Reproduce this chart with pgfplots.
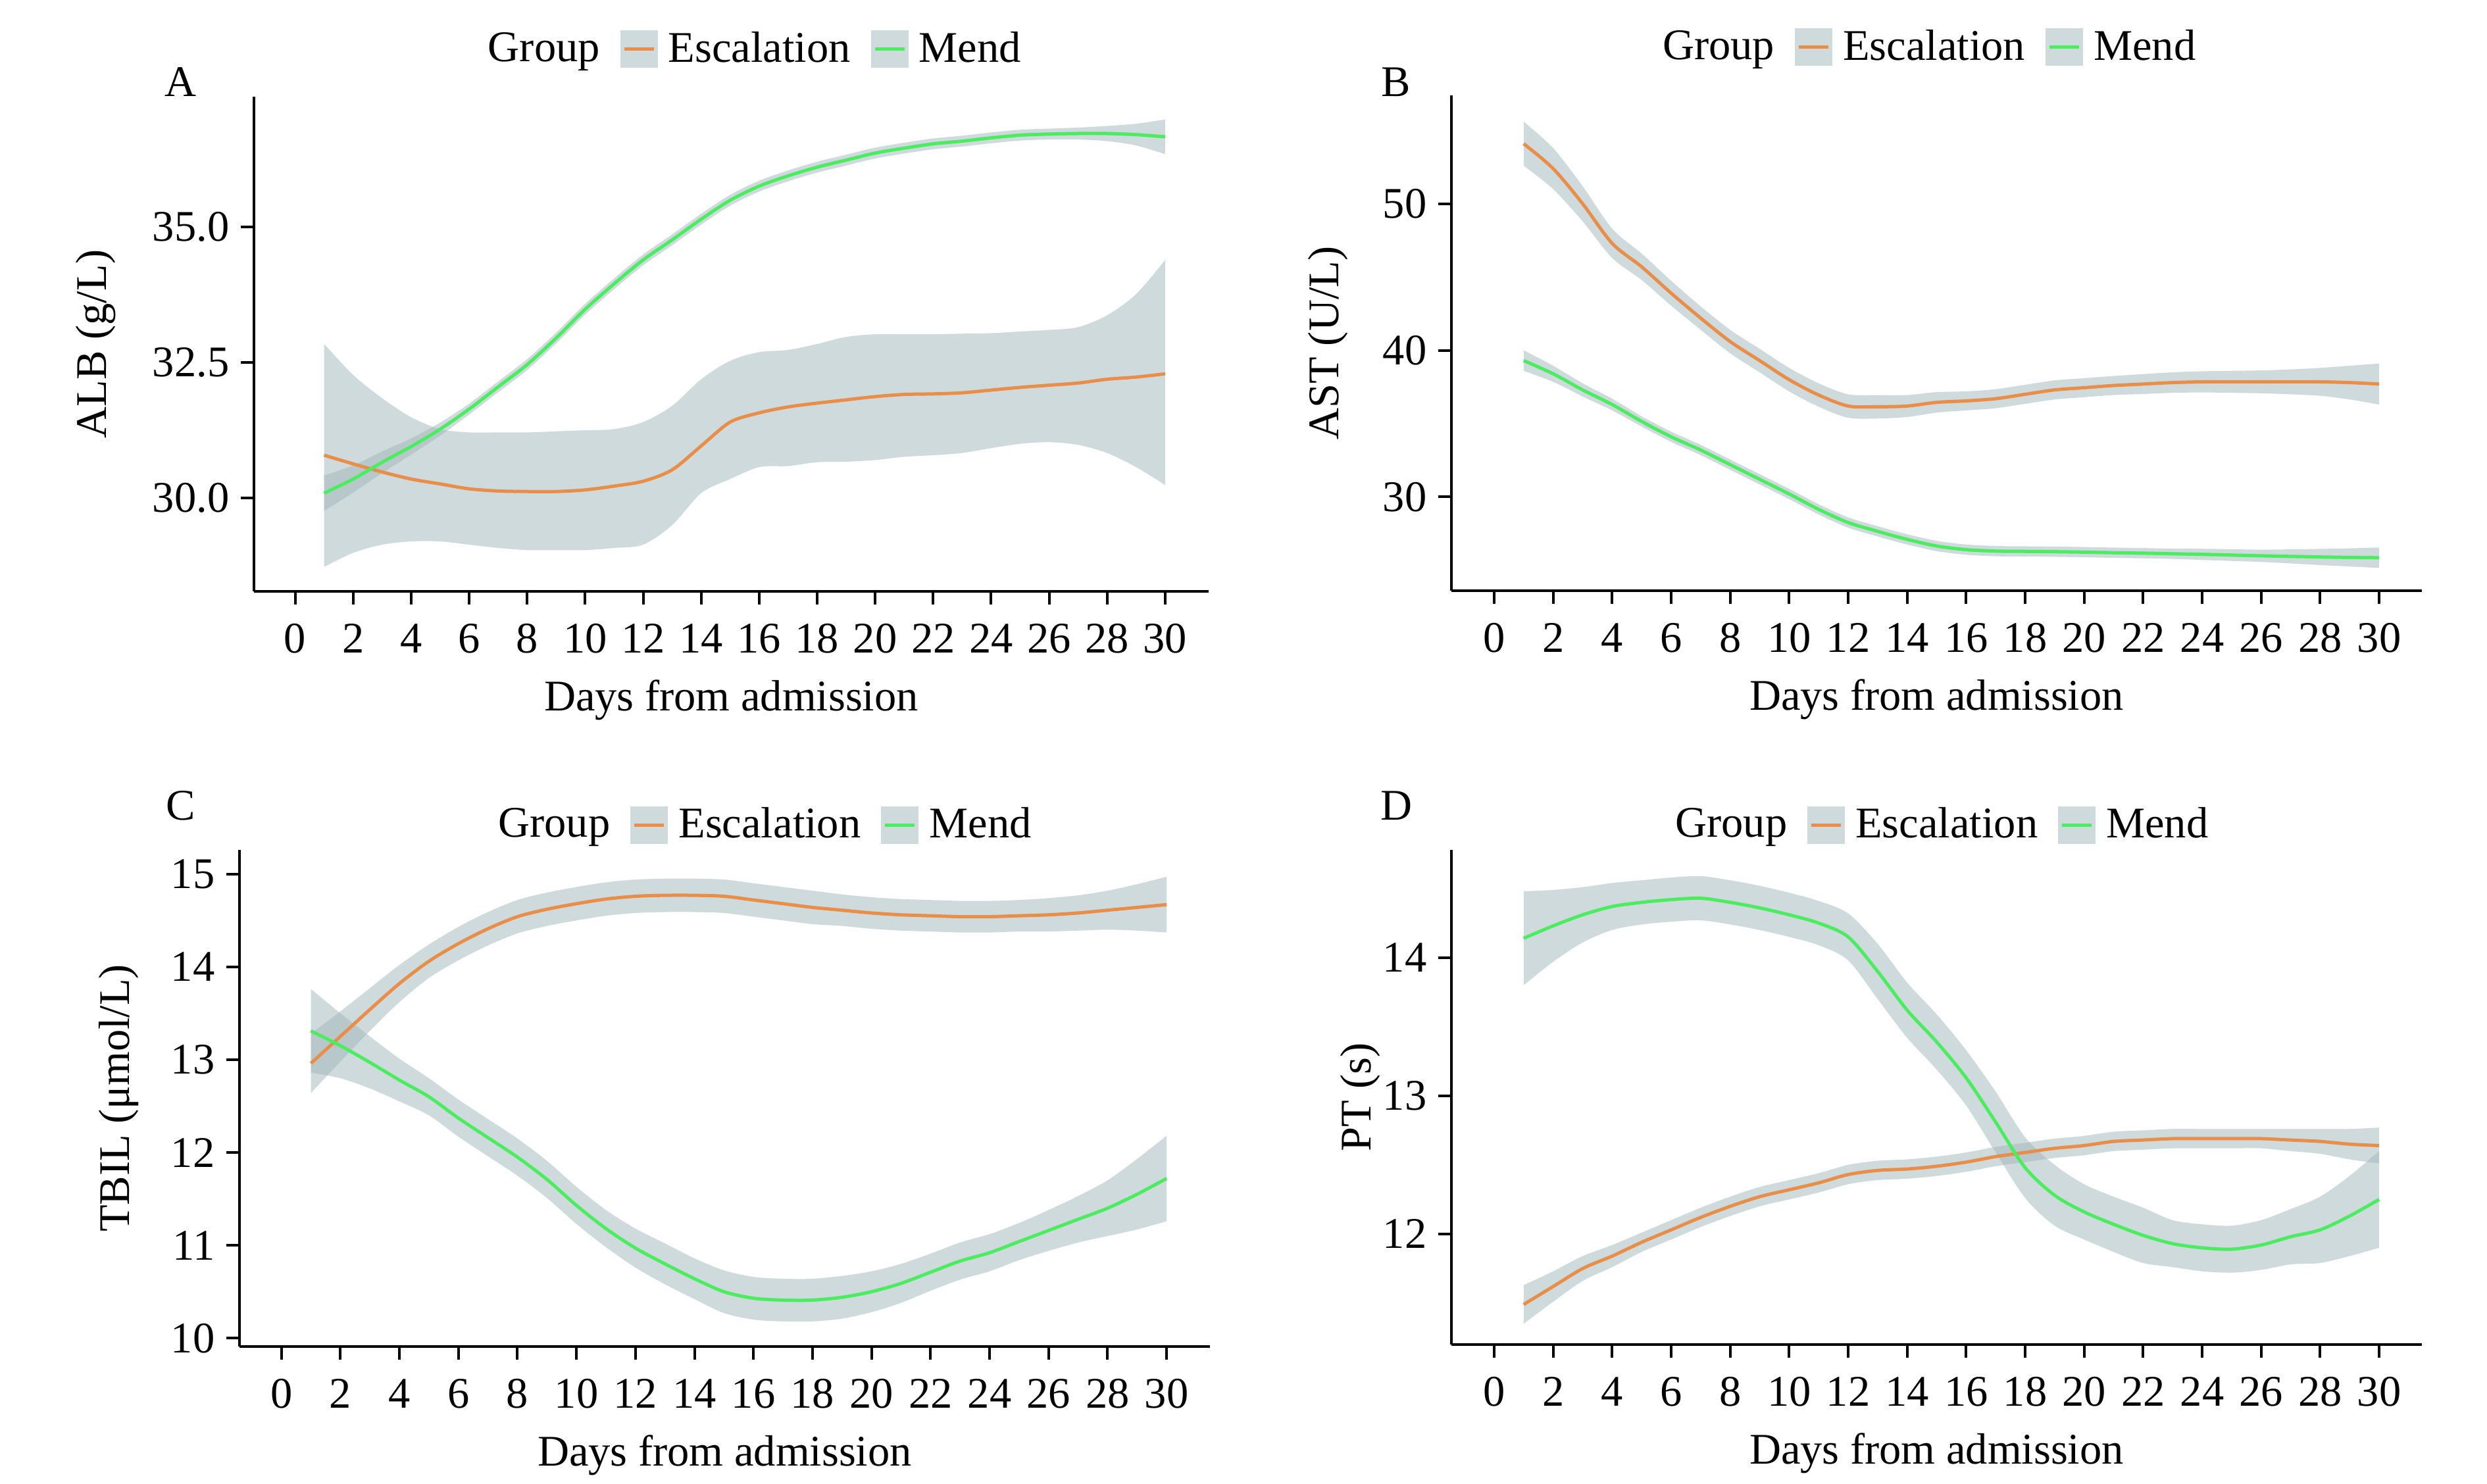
\documentclass[border=0pt]{standalone}
\usepackage{fontspec}
\setmainfont{Liberation Serif}
\usepackage{pgfplots}
\pgfplotsset{compat=1.18}
\usepackage{pgfplotstable}
\usepgfplotslibrary{fillbetween}
\definecolor{esc}{RGB}{232,142,72}
\definecolor{mend}{RGB}{76,236,96}
\definecolor{band}{RGB}{159,181,185}
\definecolor{bandkey}{RGB}{207,218,220}

% d = day; em/el/eh = Escalation mean/lower/upper; mm/ml/mh = Mend mean/lower/upper
\pgfplotstableread{
d em el eh mm ml mh
1 30.79 28.73 32.84 30.09 29.76 30.42
2 30.63 28.99 32.27 30.35 30.10 30.60
3 30.48 29.14 31.84 30.66 30.46 30.86
4 30.35 29.20 31.49 30.95 30.80 31.10
5 30.26 29.20 31.27 31.27 31.15 31.39
6 30.17 29.14 31.21 31.64 31.54 31.74
7 30.13 29.08 31.21 32.05 31.95 32.15
8 30.12 29.04 31.21 32.46 32.36 32.56
9 30.12 29.04 31.23 32.95 32.85 33.05
10 30.15 29.04 31.25 33.48 33.38 33.58
11 30.22 29.08 31.27 33.95 33.85 34.05
12 30.31 29.14 31.40 34.39 34.29 34.49
13 30.52 29.50 31.70 34.76 34.66 34.86
14 30.96 30.09 32.19 35.14 35.04 35.24
15 31.40 30.35 32.53 35.49 35.39 35.59
16 31.57 30.57 32.69 35.75 35.65 35.85
17 31.68 30.59 32.73 35.94 35.84 36.04
18 31.75 30.66 32.84 36.10 36.00 36.20
19 31.81 30.67 32.97 36.23 36.13 36.33
20 31.87 30.70 33.02 36.36 36.26 36.46
21 31.91 30.76 33.02 36.45 36.35 36.55
22 31.92 30.79 33.02 36.53 36.43 36.63
23 31.94 30.83 33.03 36.58 36.48 36.68
24 31.99 30.92 33.04 36.64 36.54 36.74
25 32.04 31.00 33.07 36.69 36.59 36.79
26 32.08 31.03 33.10 36.71 36.61 36.81
27 32.12 30.98 33.15 36.72 36.61 36.83
28 32.19 30.83 33.37 36.72 36.58 36.86
29 32.23 30.57 33.76 36.70 36.50 36.90
30 32.29 30.24 34.39 36.66 36.34 36.98
}\dA

\pgfplotstableread{
d em el eh mm ml mh
1 54.10 52.60 55.60 39.30 38.60 40.00
2 52.40 51.00 53.80 38.40 37.85 38.95
3 50.00 48.80 51.20 37.30 36.85 37.75
4 47.30 46.30 48.30 36.30 35.90 36.70
5 45.70 44.80 46.60 35.15 34.80 35.50
6 43.90 43.05 44.75 34.10 33.75 34.45
7 42.20 41.40 43.00 33.20 32.85 33.55
8 40.60 39.80 41.40 32.20 31.85 32.55
9 39.30 38.50 40.10 31.20 30.85 31.55
10 38.00 37.20 38.80 30.20 29.85 30.55
11 36.95 36.15 37.75 29.15 28.80 29.50
12 36.20 35.40 37.00 28.25 27.90 28.60
13 36.15 35.35 36.95 27.65 27.30 28.00
14 36.20 35.45 36.95 27.10 26.75 27.45
15 36.45 35.75 37.15 26.65 26.30 27.00
16 36.55 35.90 37.20 26.40 26.05 26.75
17 36.70 36.05 37.35 26.30 25.95 26.65
18 37.00 36.35 37.65 26.28 25.93 26.63
19 37.30 36.65 37.95 26.26 25.91 26.61
20 37.45 36.80 38.10 26.23 25.88 26.58
21 37.60 36.95 38.25 26.19 25.84 26.54
22 37.70 37.02 38.38 26.16 25.81 26.51
23 37.80 37.10 38.50 26.12 25.77 26.47
24 37.85 37.13 38.57 26.08 25.70 26.46
25 37.85 37.10 38.60 26.03 25.63 26.43
26 37.85 37.07 38.63 25.98 25.56 26.40
27 37.85 37.00 38.70 25.94 25.46 26.42
28 37.85 36.90 38.80 25.90 25.35 26.45
29 37.80 36.65 38.95 25.87 25.25 26.49
30 37.70 36.30 39.10 25.85 25.15 26.55
}\dB

\pgfplotstableread{
d em el eh mm ml mh
1 12.96 12.64 13.28 13.31 12.86 13.76
2 13.25 12.98 13.52 13.15 12.80 13.50
3 13.54 13.31 13.77 12.97 12.69 13.25
4 13.82 13.62 14.02 12.78 12.55 13.01
5 14.06 13.88 14.24 12.60 12.40 12.80
6 14.25 14.07 14.43 12.37 12.17 12.57
7 14.41 14.23 14.59 12.16 11.96 12.36
8 14.54 14.36 14.72 11.95 11.75 12.15
9 14.62 14.44 14.80 11.71 11.51 11.91
10 14.68 14.50 14.86 11.43 11.23 11.63
11 14.73 14.55 14.91 11.18 10.98 11.38
12 14.76 14.58 14.94 10.97 10.76 11.18
13 14.77 14.59 14.95 10.80 10.58 11.02
14 14.77 14.59 14.95 10.64 10.42 10.86
15 14.76 14.58 14.94 10.50 10.27 10.73
16 14.72 14.54 14.90 10.43 10.20 10.66
17 14.68 14.50 14.86 10.41 10.18 10.64
18 14.64 14.46 14.82 10.41 10.18 10.64
19 14.61 14.44 14.78 10.44 10.21 10.67
20 14.58 14.41 14.75 10.50 10.28 10.72
21 14.56 14.39 14.73 10.59 10.38 10.80
22 14.55 14.38 14.72 10.71 10.51 10.91
23 14.54 14.37 14.71 10.83 10.63 11.03
24 14.54 14.37 14.71 10.92 10.72 11.12
25 14.55 14.38 14.72 11.04 10.84 11.24
26 14.56 14.38 14.74 11.16 10.94 11.38
27 14.58 14.39 14.77 11.28 11.03 11.53
28 14.61 14.40 14.82 11.40 11.10 11.70
29 14.64 14.39 14.89 11.55 11.17 11.93
30 14.67 14.37 14.97 11.72 11.26 12.18
}\dC

\pgfplotstableread{
d em el eh mm ml mh
1 11.49 11.35 11.63 14.14 13.80 14.48
2 11.62 11.51 11.73 14.23 13.97 14.49
3 11.75 11.66 11.84 14.31 14.11 14.51
4 11.84 11.76 11.92 14.37 14.20 14.54
5 11.94 11.87 12.01 14.40 14.24 14.56
6 12.03 11.96 12.10 14.42 14.26 14.58
7 12.12 12.05 12.19 14.43 14.27 14.59
8 12.20 12.13 12.27 14.40 14.24 14.56
9 12.27 12.20 12.34 14.36 14.20 14.52
10 12.32 12.25 12.39 14.31 14.15 14.47
11 12.37 12.30 12.44 14.25 14.09 14.41
12 12.43 12.36 12.50 14.15 13.98 14.32
13 12.46 12.39 12.53 13.90 13.70 14.10
14 12.47 12.40 12.54 13.62 13.42 13.82
15 12.49 12.42 12.56 13.39 13.19 13.59
16 12.52 12.45 12.59 13.13 12.93 13.33
17 12.56 12.49 12.63 12.81 12.59 13.03
18 12.59 12.52 12.66 12.48 12.26 12.70
19 12.62 12.55 12.69 12.28 12.06 12.50
20 12.64 12.57 12.71 12.16 11.96 12.36
21 12.67 12.60 12.74 12.07 11.87 12.27
22 12.68 12.61 12.75 11.99 11.79 12.19
23 12.69 12.62 12.76 11.93 11.76 12.10
24 12.69 12.62 12.76 11.90 11.73 12.07
25 12.69 12.62 12.76 11.89 11.72 12.06
26 12.69 12.62 12.76 11.92 11.74 12.10
27 12.68 12.60 12.76 11.98 11.78 12.18
28 12.67 12.58 12.76 12.03 11.79 12.27
29 12.65 12.54 12.76 12.13 11.84 12.42
30 12.64 12.51 12.77 12.25 11.90 12.60
}\dD

\newcommand{\fs}{\fontsize{13.3}{16}\selectfont}

\pgfplotsset{
  panel/.style={
    scale only axis,
    anchor=south west,
    axis x line*=bottom,
    axis y line*=left,
    axis line style={line width=0.8pt, black},
    every tick/.style={line width=0.8pt, black},
    tick align=outside,
    major tick length=4pt,
    xtick={0,2,...,30},
    font=\fs,
    tick label style={font=\fs},
    xticklabel style={yshift=-2.4pt},
    label style={font=\fs},
    /pgf/number format/assume math mode=true,
    scaled ticks=false,
    xlabel={Days from admission},
    xlabel style={at={(axis description cs:0.5,0)}, anchor=center, yshift=-33pt},
    legend columns=-1,
    legend style={draw=none, fill=none, anchor=center, font=\fs,
      nodes={inner sep=1.2pt},
      /tikz/every odd column/.append style={column sep=2pt},
      /tikz/every even column/.append style={column sep=5pt}},
  },
  escleg/.style={legend image code/.code={
      \fill[bandkey] (0pt,-5.5pt) rectangle (11pt,5.5pt);
      \draw[esc, line width=1pt] (1pt,0pt) -- (10pt,0pt);}},
  mendleg/.style={legend image code/.code={
      \fill[bandkey] (0pt,-5.5pt) rectangle (11pt,5.5pt);
      \draw[mend, line width=1pt] (1pt,0pt) -- (10pt,0pt);}},
  bandfill/.style={fill=band, fill opacity=0.5, draw=none, forget plot},
}

\newcommand{\drawpanel}[1]{%
  \addplot[name path=eh, draw=none, smooth, forget plot] table[x=d, y=eh]{#1};
  \addplot[name path=el, draw=none, smooth, forget plot] table[x=d, y=el]{#1};
  \addplot[name path=mh, draw=none, smooth, forget plot] table[x=d, y=mh]{#1};
  \addplot[name path=ml, draw=none, smooth, forget plot] table[x=d, y=ml]{#1};
  \addplot[bandfill] fill between[of=eh and el];
  \addplot[bandfill] fill between[of=mh and ml];
  \addplot[esc, line width=1pt, smooth, forget plot] table[x=d, y=em]{#1};
  \addplot[mend, line width=1pt, smooth, forget plot] table[x=d, y=mm]{#1};
  \addlegendimage{empty legend}\addlegendentry{Group}
  \addlegendimage{escleg}\addlegendentry{Escalation}
  \addlegendimage{mendleg}\addlegendentry{Mend}
}

\begin{document}
\begin{tikzpicture}
\path (0,0) rectangle (756pt,451.2pt);

\begin{axis}[panel, at={(77.2pt,271.4pt)}, width=290.2pt, height=150.4pt,
  xmin=-1.42, xmax=31.5, ymin=28.28, ymax=37.40,
  ytick={30,32.5,35},
  yticklabel style={/pgf/number format/.cd, fixed, fixed zerofill, precision=1},
  ylabel={ALB (g/L)},
  ylabel style={at={(axis description cs:-0.1654,0.5)}, anchor=center},
  legend style={at={(axis description cs:0.521,1.096)}}]
\drawpanel{\dA}
\end{axis}

\begin{axis}[panel, at={(441.2pt,271.6pt)}, width=295pt, height=150.6pt,
  xmin=-1.45, xmax=31.45, ymin=23.6, ymax=57.4,
  ytick={30,40,50},
  ylabel={AST (U/L)},
  ylabel style={at={(axis description cs:-0.1268,0.5)}, anchor=center},
  legend style={at={(axis description cs:0.489,1.097)}}]
\drawpanel{\dB}
\end{axis}

\begin{axis}[panel, at={(72.8pt,41.8pt)}, width=295pt, height=151pt,
  xmin=-1.42, xmax=31.47, ymin=9.91, ymax=15.26,
  ytick={10,11,12,13,14,15},
  ylabel={TBIL (μmol/L)},
  ylabel style={at={(axis description cs:-0.1247,0.5)}, anchor=center},
  legend style={at={(axis description cs:0.538,1.05)}}]
\drawpanel{\dC}
\end{axis}

\begin{axis}[panel, at={(441.2pt,42.4pt)}, width=295pt, height=150.4pt,
  xmin=-1.45, xmax=31.45, ymin=11.2, ymax=14.78,
  ytick={12,13,14},
  ylabel={PT (s)},
  ylabel style={at={(axis description cs:-0.0942,0.5)}, anchor=center},
  legend style={at={(axis description cs:0.502,1.05)}}]
\drawpanel{\dD}
\end{axis}

\node[font=\fs] at (54.9pt,426.3pt) {A};
\node[font=\fs] at (424.4pt,426.3pt) {B};
\node[font=\fs] at (54.9pt,206.3pt) {C};
\node[font=\fs] at (424.4pt,206.3pt) {D};

\pgfresetboundingbox
\path[use as bounding box] (0,0) rectangle (756pt,451.2pt);
\end{tikzpicture}
\end{document}
